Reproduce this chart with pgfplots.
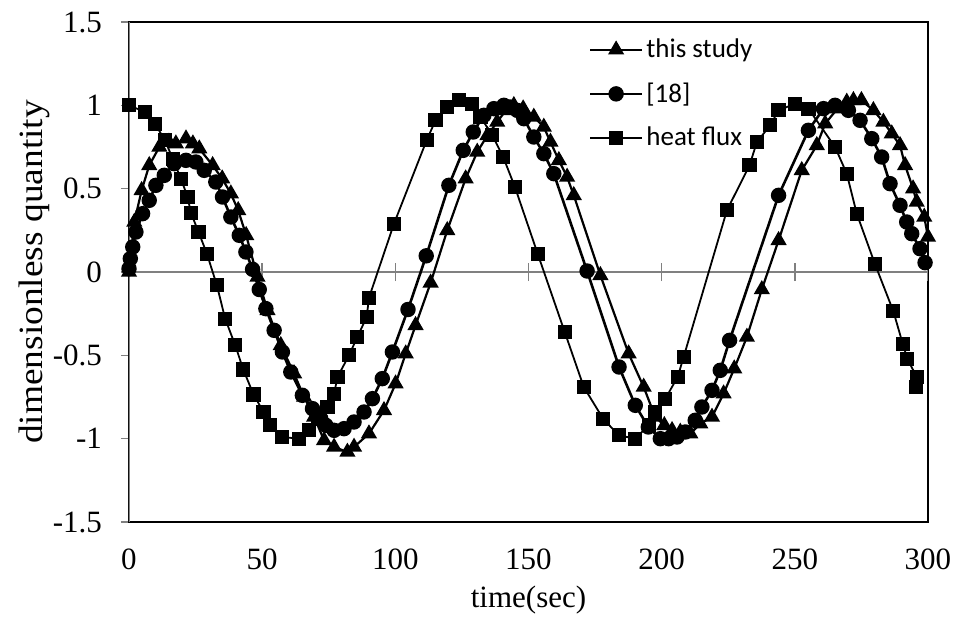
\documentclass[border=0pt]{standalone}
\usepackage{fontspec}
\setmainfont{Liberation Serif}
\newfontfamily\calibri{Carlito}
\usepackage{pgfplots}
\pgfplotsset{compat=1.18}

\begin{document}
\begin{tikzpicture}
\begin{axis}[
    width=399.5pt, height=250pt, scale only axis,
    xmin=0, xmax=300, ymin=-1.5, ymax=1.5,
    xtick={0,50,100,150,200,250,300},
    xticklabels={0,50,100,150,200,250,300},
    ytick={-1.5,-1,-0.5,0,0.5,1,1.5},
    yticklabels={-1.5,-1,-0.5,0,0.5,1,1.5},
    ytick pos=left,
    tick align=outside,
    major tick length=4pt,
    x tick style={draw=none},
    y tick style={gray, line width=0.8pt},
    tick label style={font=\fontsize{15.5}{18}\selectfont},
    xticklabel style={yshift=-6pt},
    yticklabel style={xshift=-6pt},
    axis line style={black, line width=0.8pt},
    xlabel={time(sec)},
    ylabel={\scalebox{1.1}[1]{dimensionless quantity}},
    xlabel style={font=\fontsize{15.5}{18}\selectfont,
        at={(axis description cs:0.5,-0.156)}, anchor=center},
    ylabel style={font=\fontsize{17}{20}\selectfont,
        at={(axis description cs:-0.119,0.5)}, anchor=center},
    legend style={at={(rel axis cs:0.575,0.975)}, anchor=north west,
        draw=none, fill=none, inner sep=0pt, row sep=7pt,
        font=\calibri\fontsize{13.5}{15}\selectfont,
        nodes={inner xsep=1.5pt}},
    legend cell align=left,
    legend image code/.code={\draw[mark repeat=2,mark phase=2]
        plot coordinates {(0pt,0pt) (13pt,0pt) (26pt,0pt)};},
]
% zero line with crossing ticks and the grey value axis
\draw[gray, line width=1pt] (axis cs:0,0) -- (axis cs:300,0);
\pgfplotsinvokeforeach{50,100,150,200,250,300}{
    \draw[gray, line width=0.8pt] (axis cs:#1,-0.055) -- (axis cs:#1,0.055);
}
\draw[gray, line width=1pt] (rel axis cs:0,0) -- (rel axis cs:0,1);

\addplot[black, line width=1.1pt, mark=triangle*, mark size=3.6pt] coordinates {
(0,0) (2,0.30) (4.75,0.49) (7.6,0.64) (11.4,0.75) (15,0.78) (17.6,0.77)
(21.4,0.80) (24,0.77) (26.4,0.74) (31.4,0.64) (35,0.56) (38.25,0.47)
(41,0.37) (44,0.22) (48.25,-0.03) (52,-0.23) (57,-0.44) (62,-0.61)
(65.75,-0.75) (69.5,-0.87) (73.25,-1.01) (77,-1.05) (82,-1.08) (84.5,-1.05)
(90.1,-0.97) (95.75,-0.83) (100.1,-0.67) (103.9,-0.49) (107.6,-0.32)
(113.25,-0.065) (119.5,0.25) (126.4,0.56) (130.75,0.72) (134.6,0.82)
(138.25,0.90) (141.5,0.97) (144.5,1.00) (148,0.98) (152,0.93) (155.75,0.87)
(158.25,0.78) (161.4,0.67) (164.5,0.57) (167,0.46) (177,-0.02)
(187.6,-0.49) (193.25,-0.69) (197.6,-0.87) (201,-0.92) (203.9,-0.95)
(207,-0.96) (210.75,-0.97) (214.5,-0.91) (218.9,-0.87) (223.25,-0.73)
(227.25,-0.58) (232,-0.39) (237.6,-0.105) (243.9,0.19) (252.6,0.61)
(258.25,0.76) (261.4,0.89) (266,0.98) (269.5,1.02) (272,1.03) (275,1.03)
(279.5,0.97) (283.25,0.90) (286.4,0.83) (289.5,0.76) (291.4,0.64)
(294.4,0.50) (295.75,0.42) (298.6,0.33) (300,0.21)
};
\addlegendentry{this study}

\addplot[black, line width=1.3pt, mark=*, mark size=3.2pt] coordinates {
(0,0.02) (0.5,0.08) (1.4,0.15) (2.6,0.24) (5.1,0.35) (7.6,0.43) (10.1,0.52)
(13.25,0.58) (17,0.65) (21.4,0.67) (25.1,0.66) (28.25,0.61) (32.6,0.54)
(35.1,0.45) (38.25,0.33) (41.4,0.22) (43.9,0.12) (46.4,0.016)
(48.9,-0.105) (51.4,-0.22) (54.5,-0.35) (57.6,-0.48) (60.75,-0.60)
(65.1,-0.74) (68.9,-0.82) (72,-0.88) (73.9,-0.92) (77,-0.95) (80.75,-0.94)
(84.5,-0.90) (88.25,-0.84) (91.4,-0.76) (95.1,-0.64) (98.9,-0.48)
(104.75,-0.225) (111.6,0.097) (120.1,0.52) (125.5,0.73) (129.25,0.84)
(133.25,0.94) (137,0.98) (140.75,1.00) (143,0.99) (145.75,0.97)
(148.25,0.92) (152,0.81) (155.75,0.71) (159.5,0.59) (172,0.006)
(184,-0.57) (190.1,-0.80) (195,-0.93) (199.5,-1.00) (202.6,-1.00)
(205.75,-0.99) (208.9,-0.96) (212.6,-0.89) (215.1,-0.81) (218.9,-0.71)
(222,-0.59) (225.5,-0.41) (243.9,0.46) (255.1,0.85) (260.75,0.98)
(265.1,1.00) (270.1,0.97) (274.5,0.91) (278.9,0.80) (282.6,0.69)
(285.75,0.53) (289.5,0.40) (292,0.30) (293.9,0.23) (297,0.14) (298.9,0.056)
};
\addlegendentry{[18]}

\addplot[black, line width=0.9pt, mark=square*, mark size=3.1pt] coordinates {
(0,1.00) (6,0.96) (9.75,0.89) (13.5,0.79) (16.4,0.68) (19.5,0.56)
(22,0.45) (23.25,0.355) (26.1,0.24) (29.25,0.11) (33,-0.08) (36.1,-0.28)
(39.9,-0.44) (42.9,-0.585) (46.75,-0.735) (50.5,-0.84) (53,-0.92)
(57.4,-0.99) (63.9,-1.00) (67.6,-0.95) (71,-0.88) (74.5,-0.81) (77,-0.73)
(78.3,-0.63) (82.6,-0.50) (85.75,-0.39) (89.25,-0.27) (90.1,-0.155)
(99.5,0.29) (111.75,0.79) (115.1,0.91) (119.5,0.99) (123.9,1.03)
(128.9,1.01) (132,0.93) (136.4,0.82) (140.5,0.69) (144.9,0.51)
(153.5,0.107) (163.6,-0.36) (170.75,-0.69) (178,-0.88) (183.9,-0.98)
(190.1,-1.00) (195.1,-0.92) (197.6,-0.84) (201.4,-0.76) (206,-0.63)
(208.25,-0.51) (224.5,0.37) (233,0.64) (235.75,0.78) (240.75,0.88)
(243.9,0.97) (250.1,1.01) (255.1,0.98) (265.1,0.75) (269.5,0.59)
(273.25,0.35) (280.1,0.047) (287,-0.236) (290.5,-0.43) (292.25,-0.52)
(295.75,-0.63) (295.5,-0.69)
};
\addlegendentry{heat flux}
\end{axis}
\pgfresetboundingbox
\path[use as bounding box] ([shift={(-64.5pt,-49pt)}]current axis.south west)
    rectangle ([shift={(13.5pt,11pt)}]current axis.north east);
\end{tikzpicture}
\end{document}
